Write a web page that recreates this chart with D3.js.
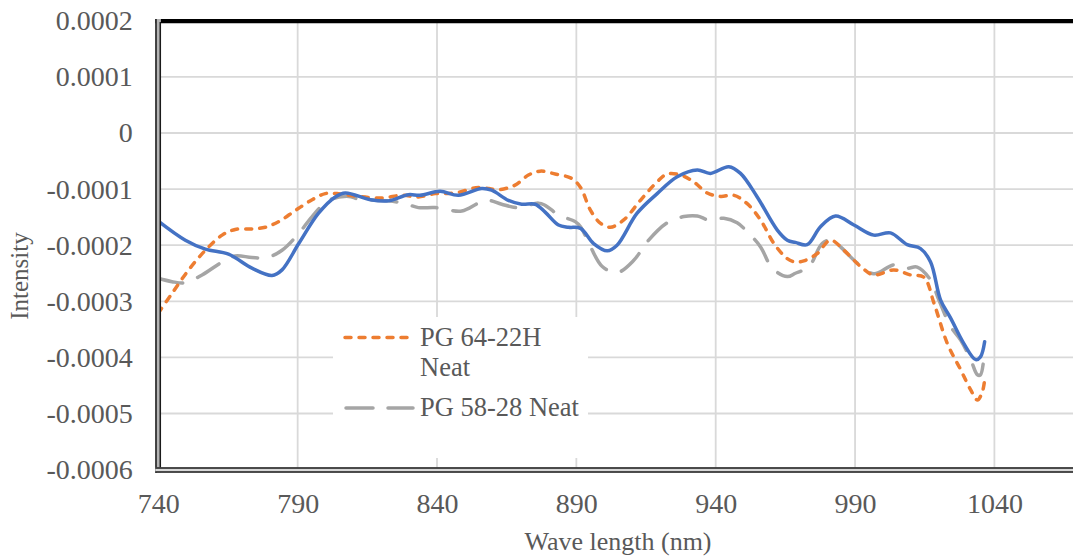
<!DOCTYPE html>
<html>
<head>
<meta charset="utf-8">
<script src="https://cdn.jsdelivr.net/npm/d3@7"></script>
<style>
  html, body { margin: 0; padding: 0; background: #fff; }
  svg { display: block; }
</style>
</head>
<body>
<svg id="chart" width="1073" height="560"></svg>
<script>
// Spectra: wavelength (nm) and intensity for each sample
const sampleAWave = [740, 749.7, 756.9, 765.2, 773.6, 780.8, 784.4, 790.4, 797.5, 803.5, 807.1, 816.1, 822.6, 829.7, 833.9, 841.1, 847.7, 856.0, 859.6, 865.6, 870.4, 875.2, 878.8, 883.6, 887.2, 891.5, 896.2, 901.1, 904.6, 911.8, 919.0, 926.2, 933.4, 938.1, 944.7, 948.9, 954.9, 962.1, 965.7, 968.6, 972.8, 977.6, 983.0, 989.6, 996.7, 1002.7, 1008.7, 1013.5, 1017.1, 1020.7, 1024.3, 1029.0, 1033.3, 1035.0, 1036.5];
const sampleAIntensity = [-0.000157, -0.000191, -0.000207, -0.000216, -0.000241, -0.000254, -0.000244, -0.000197, -0.000143, -0.000114, -0.000107, -0.000119, -0.000121, -0.000110, -0.000111, -0.000104, -0.000111, -0.000099, -0.000102, -0.000120, -0.000127, -0.000127, -0.000141, -0.000164, -0.000168, -0.000170, -0.000197, -0.000210, -0.000200, -0.000143, -0.000108, -0.000078, -0.000066, -0.000072, -0.000060, -0.000072, -0.000114, -0.000173, -0.000191, -0.000195, -0.000199, -0.000167, -0.000148, -0.000164, -0.000182, -0.000178, -0.000199, -0.000206, -0.000230, -0.000298, -0.000330, -0.000375, -0.000404, -0.000399, -0.000372];

const pg6422Wave = [740, 744.9, 750.9, 756.9, 762.9, 767.6, 773.6, 778.4, 783.2, 789.2, 795.2, 799.9, 804.1, 808.3, 820.2, 827.3, 833.3, 839.3, 846.5, 854.9, 862.0, 868.0, 872.8, 877.0, 882.4, 888.3, 891.5, 895.1, 898.7, 902.2, 907.0, 913.0, 919.0, 922.6, 927.4, 932.1, 937.0, 941.7, 946.5, 951.3, 956.1, 960.9, 965.7, 968.6, 971.6, 976.4, 981.2, 986.0, 992.0, 996.7, 1003.9, 1009.9, 1014.7, 1018.3, 1023.1, 1027.9, 1031.5, 1033.9, 1035.7, 1036.5];
const pg6422Intensity = [-0.000321, -0.000286, -0.000244, -0.000209, -0.000182, -0.000172, -0.000171, -0.000168, -0.000158, -0.000138, -0.000119, -0.000108, -0.000108, -0.000111, -0.000116, -0.000111, -0.000114, -0.000108, -0.000107, -0.000097, -0.000101, -0.000093, -0.000075, -0.000068, -0.000073, -0.000081, -0.000097, -0.000138, -0.000161, -0.000168, -0.000155, -0.000120, -0.000087, -0.000073, -0.000075, -0.000087, -0.000107, -0.000113, -0.000111, -0.000126, -0.000155, -0.000197, -0.000224, -0.000230, -0.000228, -0.000215, -0.000191, -0.000209, -0.000238, -0.000253, -0.000244, -0.000253, -0.000257, -0.000303, -0.000375, -0.000422, -0.000458, -0.000476, -0.000461, -0.000440];

const pg5828Wave = [740, 744.9, 749.7, 755.7, 762.9, 767.6, 773.6, 779.0, 784.4, 790.4, 795.2, 801.1, 808.3, 811.9, 822.6, 828.6, 833.3, 839.3, 848.9, 854.9, 858.5, 863.2, 869.2, 876.4, 878.8, 883.6, 889.6, 891.5, 895.1, 899.3, 904.6, 910.6, 915.4, 922.6, 928.6, 933.4, 937.5, 942.9, 947.7, 951.3, 956.1, 960.3, 965.7, 968.6, 971.6, 974.0, 978.2, 981.8, 984.8, 990.8, 996.7, 1003.9, 1008.7, 1012.3, 1017.1, 1020.1, 1024.3, 1027.9, 1031.5, 1033.9, 1035.0, 1036.2];
const pg5828Intensity = [-0.000259, -0.000265, -0.000267, -0.000253, -0.000230, -0.000219, -0.000222, -0.000222, -0.000209, -0.000179, -0.000149, -0.000120, -0.000113, -0.000118, -0.000121, -0.000126, -0.000133, -0.000133, -0.000139, -0.000125, -0.000120, -0.000127, -0.000133, -0.000125, -0.000129, -0.000146, -0.000158, -0.000167, -0.000203, -0.000238, -0.000249, -0.000227, -0.000194, -0.000160, -0.000149, -0.000148, -0.000155, -0.000152, -0.000160, -0.000176, -0.000203, -0.000241, -0.000256, -0.000250, -0.000244, -0.000235, -0.000197, -0.000190, -0.000203, -0.000232, -0.000251, -0.000235, -0.000241, -0.000239, -0.000262, -0.000298, -0.000345, -0.000369, -0.000404, -0.000431, -0.000431, -0.000401];

const legendNames = ["PG 64-22H", "Neat", "PG 58-28 Neat"];

const waveGrid = [740, 790, 840, 890, 940, 990, 1040, 1090];
const waveTicks = [740, 790, 840, 890, 940, 990, 1040];
const waveTickLabels = ["740", "790", "840", "890", "940", "990", "1040"];
const intensityTicks = [0.0002, 0.0001, 0, -0.0001, -0.0002, -0.0003, -0.0004, -0.0005, -0.0006];
const intensityTickLabels = ["0.0002", "0.0001", "0", "-0.0001", "-0.0002", "-0.0003", "-0.0004", "-0.0005", "-0.0006"];

const FONT = "'Liberation Serif', 'Times New Roman', Tinos, serif";
const TEXT = "#595959";

const svg = d3.select("#chart").attr("font-family", FONT);
const W = 1073;

const plot = { left: 158.3, top: 20.8, bottom: 469.6, right: 158.3 + 350 * 2.787 };

const x = d3.scaleLinear().domain([740, 1090]).range([plot.left, plot.right]);
const y = d3.scaleLinear().domain([-0.0006, 0.0002]).range([plot.bottom, plot.top]);

// Gridlines
const grid = svg.append("g");
grid.selectAll("line.h").data(intensityTicks).join("line")
  .attr("x1", plot.left).attr("x2", plot.right)
  .attr("y1", d => y(d)).attr("y2", d => y(d))
  .attr("stroke", "#d9d9d9").attr("stroke-width", 1.8);
grid.selectAll("line.v").data(waveGrid).join("line")
  .attr("x1", d => x(d)).attr("x2", d => x(d))
  .attr("y1", plot.top).attr("y2", plot.bottom)
  .attr("stroke", "#d9d9d9").attr("stroke-width", 1.8);

// Axes (labels only)
const yAxis = d3.axisLeft(y).tickValues(intensityTicks)
  .tickFormat((d, i) => intensityTickLabels[i]).tickSize(0).tickPadding(25.5);
svg.append("g").attr("transform", `translate(${plot.left},0)`).call(yAxis)
  .attr("font-family", FONT)
  .call(g => g.select(".domain").remove())
  .selectAll("text").attr("font-size", 28).attr("fill", TEXT);

const xAxis = d3.axisBottom(x).tickValues(waveTicks)
  .tickFormat((d, i) => waveTickLabels[i]).tickSize(0).tickPadding(23.4);
svg.append("g").attr("transform", `translate(0,${plot.bottom})`).call(xAxis)
  .attr("font-family", FONT)
  .call(g => g.select(".domain").remove())
  .selectAll("text").attr("font-size", 28).attr("fill", TEXT);

// Series
const line = d3.line().x(d => x(d[0])).y(d => y(d[1])).curve(d3.curveCatmullRom.alpha(0.5));
const zip = (a, b) => a.map((v, i) => [v, b[i]]);

svg.append("path").datum(zip(pg5828Wave, pg5828Intensity))
  .attr("d", line).attr("fill", "none")
  .attr("stroke", "#a5a5a5").attr("stroke-width", 3.5)
  .attr("stroke-linecap", "round").attr("stroke-dasharray", "25,16");

svg.append("path").datum(zip(pg6422Wave, pg6422Intensity))
  .attr("d", line).attr("fill", "none")
  .attr("stroke", "#ed7d31").attr("stroke-width", 3.5)
  .attr("stroke-linecap", "round").attr("stroke-dasharray", "6,8");

svg.append("path").datum(zip(sampleAWave, sampleAIntensity))
  .attr("d", line).attr("fill", "none")
  .attr("stroke", "#4472c4").attr("stroke-width", 3.5)
  .attr("stroke-linecap", "round");

// Legend
const legend = svg.append("g");
legend.append("rect").attr("x", 333).attr("y", 317).attr("width", 255).attr("height", 141).attr("fill", "#fff");
legend.append("line").attr("x1", 345).attr("x2", 413).attr("y1", 337.5).attr("y2", 337.5)
  .attr("stroke", "#ed7d31").attr("stroke-width", 3.5).attr("stroke-linecap", "round")
  .attr("stroke-dasharray", "6,8");
legend.append("line").attr("x1", 346).attr("x2", 413).attr("y1", 408).attr("y2", 408)
  .attr("stroke", "#a5a5a5").attr("stroke-width", 3.5).attr("stroke-linecap", "round")
  .attr("stroke-dasharray", "27,15");
legend.selectAll("text").data(legendNames).join("text")
  .attr("x", 420)
  .attr("y", (d, i) => [346, 376, 416][i])
  .attr("font-size", 26.5).attr("fill", TEXT)
  .text(d => d);

// Plot frame
const frame = svg.append("g");
frame.append("line").attr("x1", 155).attr("x2", W).attr("y1", 21.2).attr("y2", 21.2)
  .attr("stroke", "#000").attr("stroke-width", 4.3);
frame.append("rect").attr("x", 155.3).attr("y", 19).attr("width", 5.6).attr("height", 453.5).attr("fill", "#b4b4b4");
frame.append("line").attr("x1", 156).attr("x2", 156).attr("y1", 19).attr("y2", 473)
  .attr("stroke", "#1a1a1a").attr("stroke-width", 1.5);
frame.append("line").attr("x1", 160.3).attr("x2", 160.3).attr("y1", 22).attr("y2", 469)
  .attr("stroke", "#1a1a1a").attr("stroke-width", 1.5);
frame.append("rect").attr("x", 155.3).attr("y", 467.3).attr("width", W - 155).attr("height", 5.2).attr("fill", "#d8d8d8");
frame.append("line").attr("x1", 155.3).attr("x2", W).attr("y1", 468).attr("y2", 468)
  .attr("stroke", "#1a1a1a").attr("stroke-width", 1.5);
frame.append("line").attr("x1", 155.3).attr("x2", W).attr("y1", 472).attr("y2", 472)
  .attr("stroke", "#1a1a1a").attr("stroke-width", 1.5);

// Axis titles
svg.append("text").attr("transform", "translate(28,276) rotate(-90)")
  .attr("text-anchor", "middle").attr("font-size", 25).attr("fill", TEXT).text("Intensity");
svg.append("text").attr("x", 618).attr("y", 550)
  .attr("text-anchor", "middle").attr("font-size", 26).attr("fill", TEXT).text("Wave length (nm)");
</script>
</body>
</html>
